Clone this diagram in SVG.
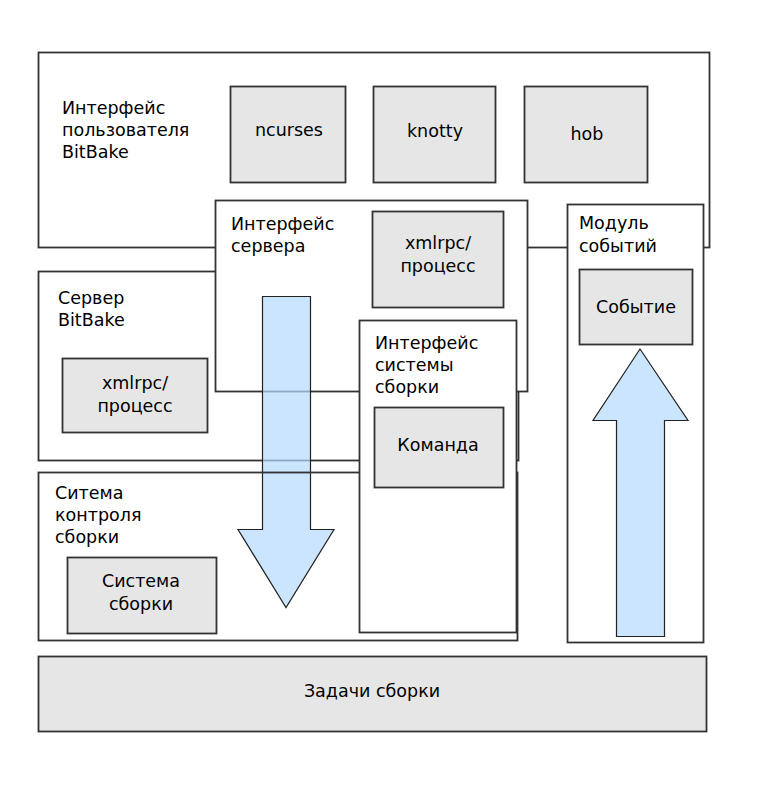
<svg xmlns="http://www.w3.org/2000/svg" width="762" height="792" viewBox="0 0 762 792">
<style>
.c{fill:#fff;stroke:#333;stroke-width:1.8}
.n{fill:none;stroke:#333;stroke-width:1.8}
.g{fill:#e6e6e6;stroke:#333;stroke-width:1.8}
.a{fill:#b6daff;fill-opacity:0.7;stroke:#222;stroke-width:1.2;stroke-linejoin:miter}
text{font-family:"DejaVu Sans","Noto Sans",sans-serif;font-size:17.5px;fill:#000}
.m{text-anchor:middle}
</style>
<rect width="762" height="792" fill="#fff"/>
<g id="ui">
<rect class="c" x="38.5" y="52.5" width="671" height="195"/>
<text x="62" y="114">Интерфейс</text>
<text x="62" y="136">пользователя</text>
<text x="62" y="158">BitBake</text>
</g>
<g id="ncurses"><rect class="g" x="230.5" y="86.5" width="115" height="96"/><text class="m" x="289" y="136">ncurses</text></g>
<g id="knotty"><rect class="g" x="373.5" y="86.5" width="122" height="96"/><text class="m" x="435" y="137">knotty</text></g>
<g id="hob"><rect class="g" x="524.5" y="86.5" width="123" height="96"/><text class="m" x="587" y="140">hob</text></g>
<g id="events">
<rect class="c" x="567.5" y="204.5" width="136" height="438"/>
<text x="579" y="229">Модуль</text>
<text x="579" y="252">событий</text>
</g>
<g id="event"><rect class="g" x="579.5" y="269.5" width="113" height="75"/><text class="m" x="636" y="313">Событие</text></g>
<g id="server">
<rect class="c" x="38.5" y="271.5" width="480" height="189"/>
<text x="58" y="304">Сервер</text>
<text x="58" y="326">BitBake</text>
</g>
<g id="server-xmlrpc"><rect class="g" x="62.5" y="358.5" width="145" height="74"/><text class="m" x="135" y="389">xmlrpc/</text><text class="m" x="135" y="412">процесс</text></g>
<g id="srv-iface">
<rect class="c" x="215.5" y="200.5" width="312" height="191"/>
<text x="231" y="230">Интерфейс</text>
<text x="231" y="252">сервера</text>
</g>
<g id="iface-xmlrpc"><rect class="g" x="372.5" y="211.5" width="131" height="96"/><text class="m" x="438" y="249">xmlrpc/</text><text class="m" x="438" y="272">процесс</text></g>
<g id="connectors">
<path class="a" d="M262.5,296.5 H310.5 V529.5 H334 L286,607.5 L238,529.5 H262.5 Z"/>
<path class="a" d="M616.5,636.5 H664.5 V420.5 H688 L640,349 L593,420.5 H616.5 Z"/>
</g>
<g id="control">
<rect class="n" x="38.5" y="472.5" width="479" height="168"/>
<text x="55" y="499">Ситема</text>
<text x="55" y="521">контроля</text>
<text x="55" y="543">сборки</text>
</g>
<g id="buildsys"><rect class="g" x="67.5" y="557.5" width="149" height="76"/><text class="m" x="141" y="587">Система</text><text class="m" x="141" y="610">сборки</text></g>
<g id="bs-iface">
<rect class="c" x="359.5" y="320.5" width="157" height="312"/>
<text x="375" y="349">Интерфейс</text>
<text x="375" y="371">системы</text>
<text x="375" y="393">сборки</text>
</g>
<g id="command"><rect class="g" x="374.5" y="407.5" width="129" height="80"/><text class="m" x="438" y="451">Команда</text></g>
<g id="tasks"><rect class="g" x="38.5" y="656.5" width="668" height="75"/><text class="m" x="372" y="697">Задачи сборки</text></g>
</svg>
